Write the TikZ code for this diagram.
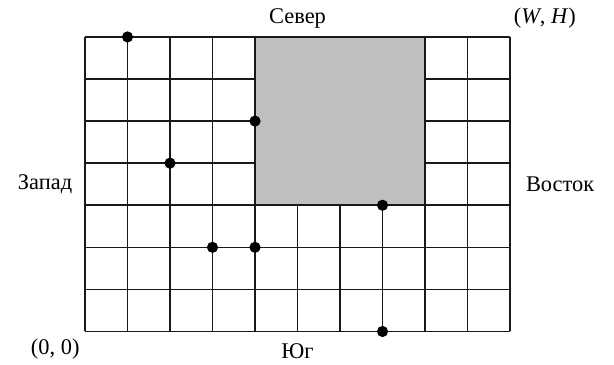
\documentclass[tikz,border=0pt]{standalone}
\usepackage{fontspec}
\setmainfont{Liberation Serif}
\usepackage{tikz}
\usetikzlibrary{positioning}

\begin{document}
\begin{tikzpicture}[
  x=1cm, y=0.99cm,
  gridline/.style={line width=1.1pt, black!90},
  blocked/.style={fill=black!25, draw=black!90, line width=1.1pt},
  point/.style={circle, fill=black, inner sep=0pt, minimum size=7.5pt},
  side/.style={font=\fontsize{15}{17}\selectfont, inner sep=1pt}
]
\useasboundingbox (-2,-0.783) rectangle (12.447,7.878);

% grid
\foreach \i in {0,...,10} \draw[gridline] (\i,0) -- (\i,7);
\foreach \j in {0,...,7} \draw[gridline] (0,\j) -- (10,\j);
\draw[blocked] (4,3) rectangle (8,7);

% points
\node[point] (p1) at (1,7) {};
\node[point] (p2) at (4,5) {};
\node[point] (p3) at (2,4) {};
\node[point] (p4) at (7,3) {};
\node[point] (p5) at (3,2) {};
\node[point] (p6) at (4,2) {};
\node[point] (p7) at (7,0) {};

% labels
\node[side] (north)  at (5,7.45)     {Север};
\node[side] (wh)     at (10.82,7.45) {(\textit{W}, \textit{H})};
\node[side] (west)   at (-0.94,3.5)  {Запад};
\node[side] (east)   at (11.18,3.5)  {Восток};
\node[side] (origin) at (-0.7,-0.43) {(0, 0)};
\node[side] (south)  at (5,-0.47)    {Юг};
\end{tikzpicture}
\end{document}
